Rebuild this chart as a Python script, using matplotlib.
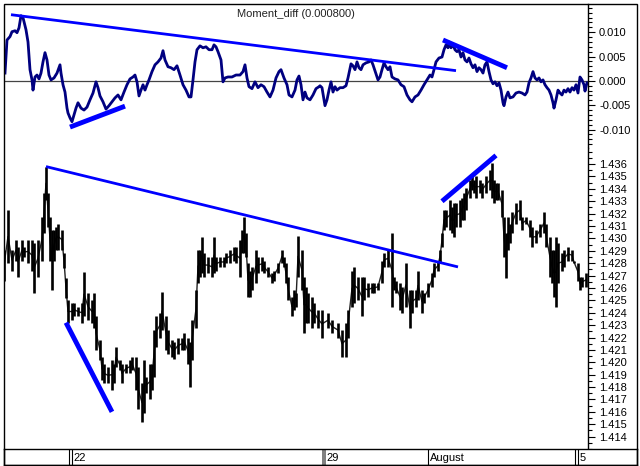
import matplotlib
matplotlib.use('Agg')
import matplotlib.pyplot as plt
from matplotlib.ticker import MultipleLocator, FixedLocator, FormatStrFormatter
from matplotlib.patches import Rectangle

plt.rcParams['font.family'] = 'Liberation Sans'

# Moment_diff oscillator (bar index, value)
moment_bar = [0.5, 1.5, 3, 4, 5.5, 6.5, 7.5, 8.5, 9.5, 11, 12, 13, 14, 14.5, 15.5, 16.5, 17.5, 18.5, 19.5, 20.5,
              21.5, 22.5, 23.5, 25, 26.5, 28, 28.5, 29.5, 30.5, 31.5, 32, 33, 34, 35, 36, 37, 38.5, 40, 41.5, 43,
              44.5, 46, 47, 48, 49.5, 51, 52.5, 54, 55.5, 57, 58.5, 60, 61.5, 63, 64.5, 65.5, 66.5, 67.5, 68.5, 69.5,
              70.5, 71.5, 72.5, 74, 75.5, 77, 78.5, 79.5, 80.5, 82, 83.5, 85, 86.5, 88, 89.5, 91, 92.5, 93.5, 94.5, 95.5,
              96.5, 98, 99.5, 101, 102.5, 104, 105, 106, 107, 108.5, 109.5, 110.5, 112, 114, 116, 118, 119.5, 120.5, 121.5, 122.5,
              124, 125.5, 127, 128.5, 130, 131.5, 133, 134.5, 136, 137.5, 138.5, 140, 141.5, 142.5, 144, 145.5, 146.5, 147.5, 148.5, 149.5,
              150.5, 151.5, 153, 154.5, 156, 157.5, 158, 159, 160, 160.5, 161.5, 162.5, 163.5, 164.5, 165.5, 166.5, 168, 169.5, 171, 172,
              173.5, 174.5, 175.5, 176.5, 177.5, 178.5, 179.5, 181, 182.5, 183.5, 184.5, 186, 187, 188, 189, 190, 191, 192, 193, 194,
              195.5, 197, 198.5, 200, 201.5, 203, 204, 205.5, 207, 208.5, 210, 211.5, 213, 214, 215, 216, 217.5, 219, 220, 221,
              222, 222.5, 223.5, 224.5, 225.5, 226.5, 227.5, 228.5, 229.5, 230.5, 231.5, 232.5, 233.5, 234.5, 235.5, 236.5, 237.5, 238.5, 239.5, 240.5,
              241.5, 242.5, 243.5, 244.5, 245.5, 246.5, 247.5, 248.5, 249.5, 250, 251, 252, 253, 254.5, 256, 257.5, 259, 260.5, 261.5, 262.5,
              263.5, 264.5, 265.5, 266.5, 267.5, 268.5, 269.5, 270.5, 271.5, 272.5, 273.5, 274.5, 275, 276, 277, 278, 279, 280, 281, 282,
              283, 284, 285, 286, 287, 288, 289, 290, 290.5, 291.5]
moment_val = [0.0016, 0.0084, 0.0091, 0.0101, 0.0103, 0.0099, 0.0109, 0.0134, 0.0130, 0.0105, 0.0080, 0.0023, 0.0002, -0.0019, 0.0008, 0.0012, 0.0004, 0.0016, 0.0039, 0.0058,
              0.0043, 0.0012, 0.0002, 0.0006, 0.0016, 0.0033, 0.0016, -0.0008, -0.0023, -0.0056, -0.0066, -0.0076, -0.0084, -0.0070, -0.0056, -0.0045, -0.0056, -0.0060, -0.0054, -0.0039,
              -0.0025, -0.0002, -0.0014, -0.0031, -0.0043, -0.0058, -0.0051, -0.0043, -0.0035, -0.0029, -0.0039, -0.0023, -0.0008, 0.0004, 0.0008, 0.0012, -0.0002, -0.0031, -0.0019, -0.0008,
              -0.0019, -0.0008, 0.0002, 0.0019, 0.0033, 0.0039, 0.0047, 0.0062, 0.0043, 0.0029, 0.0027, 0.0023, 0.0031, 0.0012, -0.0008, -0.0019, -0.0033, -0.0033, 0.0002, 0.0039,
              0.0064, 0.0072, 0.0068, 0.0070, 0.0064, 0.0064, 0.0074, 0.0070, 0.0060, 0.0043, -0.0002, 0.0006, 0.0008, 0.0008, 0.0012, 0.0012, 0.0019, 0.0033, 0.0006, -0.0012,
              -0.0016, -0.0002, -0.0014, -0.0008, -0.0012, -0.0023, -0.0033, -0.0019, 0.0006, 0.0019, 0.0023, 0.0006, -0.0008, -0.0029, -0.0033, -0.0019, 0.0002, 0.0010, -0.0008, -0.0039,
              -0.0023, -0.0035, -0.0039, -0.0029, -0.0016, -0.0012, -0.0010, -0.0014, -0.0039, -0.0051, -0.0039, -0.0019, -0.0002, -0.0023, -0.0012, -0.0019, -0.0014, -0.0014, -0.0010, 0.0006,
              0.0035, 0.0031, 0.0023, 0.0039, 0.0027, 0.0023, 0.0033, 0.0037, 0.0039, 0.0043, 0.0033, 0.0014, 0.0002, 0.0008, 0.0023, 0.0037, 0.0029, 0.0023, 0.0029, 0.0008,
              0.0004, 0.0002, -0.0008, -0.0012, -0.0029, -0.0039, -0.0043, -0.0033, -0.0029, -0.0019, -0.0008, 0.0002, 0.0012, 0.0008, 0.0023, 0.0039, 0.0047, 0.0049, 0.0064, 0.0074,
              0.0068, 0.0080, 0.0068, 0.0074, 0.0064, 0.0060, 0.0064, 0.0049, 0.0058, 0.0043, 0.0039, 0.0047, 0.0035, 0.0027, 0.0033, 0.0019, 0.0027, 0.0023, 0.0016, 0.0033,
              0.0039, 0.0019, 0.0002, -0.0006, -0.0002, -0.0010, -0.0004, -0.0019, -0.0045, -0.0051, -0.0033, -0.0023, -0.0035, -0.0033, -0.0025, -0.0023, -0.0025, -0.0029, -0.0023, -0.0004,
              0.0006, 0.0019, 0.0006, 0.0002, 0.0006, -0.0002, 0.0002, -0.0008, -0.0014, -0.0019, -0.0029, -0.0045, -0.0056, -0.0039, -0.0019, -0.0025, -0.0029, -0.0019, -0.0023, -0.0016,
              -0.0023, -0.0014, -0.0019, -0.0008, -0.0025, 0.0008, 0.0002, -0.0008, -0.0021, -0.0004]

# price bars (bar index, high, low)
price_bar = [0, 2, 4, 6, 7, 9, 10, 12, 14, 15, 17, 19, 20, 21, 22, 23, 24, 25, 26, 27,
             29, 30, 31, 32, 34, 35, 37, 39, 40, 42, 44, 45, 46, 48, 49, 50, 52, 54, 55, 56,
             58, 59, 61, 63, 64, 66, 67, 69, 70, 71, 73, 74, 75, 76, 78, 79, 81, 82, 84, 85,
             87, 89, 90, 92, 93, 94, 96, 97, 98, 99, 100, 102, 104, 105, 106, 108, 110, 111, 113, 115,
             116, 118, 119, 120, 121, 122, 123, 124, 126, 127, 129, 130, 132, 134, 135, 137, 139, 140, 141, 142,
             144, 145, 146, 147, 149, 150, 151, 152, 154, 155, 157, 159, 162, 164, 167, 169, 171, 172, 174, 175,
             177, 179, 180, 182, 184, 185, 187, 189, 190, 192, 194, 195, 196, 198, 199, 201, 203, 204, 206, 207,
             209, 210, 212, 214, 215, 217, 218, 219, 220, 221, 223, 224, 225, 226, 228, 229, 230, 231, 233, 234,
             235, 236, 238, 239, 241, 243, 244, 245, 246, 247, 249, 250, 251, 252, 253, 254, 256, 258, 259, 261,
             263, 264, 266, 268, 270, 271, 273, 274, 275, 276, 277, 279, 280, 282, 284, 285, 287, 288, 289, 291]
price_high = [1.4291, 1.4323, 1.4291, 1.4299, 1.4293, 1.4299, 1.4293, 1.4299, 1.4299, 1.4296, 1.4299, 1.4317, 1.4337, 1.4358, 1.4337, 1.4317, 1.4307, 1.4307, 1.4309, 1.4312,
              1.4307, 1.4288, 1.4268, 1.4250, 1.4248, 1.4248, 1.4245, 1.4248, 1.4273, 1.4256, 1.4250, 1.4256, 1.4237, 1.4218, 1.4204, 1.4199, 1.4196, 1.4202, 1.4199, 1.4212,
              1.4202, 1.4199, 1.4199, 1.4202, 1.4204, 1.4204, 1.4196, 1.4183, 1.4202, 1.4188, 1.4199, 1.4199, 1.4226, 1.4237, 1.4240, 1.4257, 1.4237, 1.4226, 1.4218, 1.4216,
              1.4220, 1.4220, 1.4224, 1.4220, 1.4216, 1.4234, 1.4258, 1.4291, 1.4291, 1.4301, 1.4288, 1.4285, 1.4285, 1.4301, 1.4285, 1.4285, 1.4285, 1.4288, 1.4291, 1.4293,
              1.4293, 1.4299, 1.4307, 1.4317, 1.4304, 1.4280, 1.4274, 1.4277, 1.4291, 1.4285, 1.4285, 1.4282, 1.4277, 1.4272, 1.4274, 1.4280, 1.4291, 1.4285, 1.4280, 1.4269,
              1.4253, 1.4258, 1.4256, 1.4302, 1.4291, 1.4269, 1.4261, 1.4256, 1.4253, 1.4248, 1.4242, 1.4242, 1.4240, 1.4234, 1.4232, 1.4226, 1.4232, 1.4242, 1.4274, 1.4277,
              1.4269, 1.4269, 1.4269, 1.4264, 1.4264, 1.4264, 1.4264, 1.4282, 1.4288, 1.4291, 1.4304, 1.4269, 1.4266, 1.4264, 1.4261, 1.4280, 1.4258, 1.4258, 1.4258, 1.4274,
              1.4258, 1.4256, 1.4264, 1.4272, 1.4280, 1.4282, 1.4291, 1.4304, 1.4323, 1.4323, 1.4331, 1.4325, 1.4329, 1.4329, 1.4331, 1.4333, 1.4337, 1.4341, 1.4347, 1.4350,
              1.4347, 1.4350, 1.4347, 1.4345, 1.4350, 1.4355, 1.4361, 1.4347, 1.4345, 1.4345, 1.4339, 1.4317, 1.4304, 1.4317, 1.4312, 1.4321, 1.4329, 1.4331, 1.4317, 1.4317,
              1.4315, 1.4309, 1.4307, 1.4312, 1.4321, 1.4312, 1.4301, 1.4291, 1.4291, 1.4301, 1.4296, 1.4288, 1.4291, 1.4293, 1.4291, 1.4282, 1.4280, 1.4269, 1.4269, 1.4272]
price_low = [1.4266, 1.4280, 1.4274, 1.4282, 1.4269, 1.4282, 1.4285, 1.4280, 1.4274, 1.4256, 1.4269, 1.4282, 1.4304, 1.4331, 1.4309, 1.4282, 1.4258, 1.4282, 1.4291, 1.4291,
             1.4291, 1.4276, 1.4252, 1.4232, 1.4234, 1.4237, 1.4237, 1.4232, 1.4237, 1.4234, 1.4232, 1.4228, 1.4210, 1.4202, 1.4186, 1.4183, 1.4183, 1.4178, 1.4183, 1.4196,
             1.4194, 1.4183, 1.4191, 1.4191, 1.4194, 1.4178, 1.4162, 1.4152, 1.4159, 1.4175, 1.4170, 1.4178, 1.4188, 1.4212, 1.4220, 1.4226, 1.4210, 1.4207, 1.4204, 1.4203,
             1.4207, 1.4210, 1.4210, 1.4199, 1.4180, 1.4202, 1.4228, 1.4264, 1.4269, 1.4272, 1.4269, 1.4272, 1.4269, 1.4272, 1.4274, 1.4277, 1.4277, 1.4280, 1.4280, 1.4282,
             1.4280, 1.4269, 1.4288, 1.4288, 1.4285, 1.4253, 1.4253, 1.4258, 1.4264, 1.4272, 1.4274, 1.4272, 1.4269, 1.4264, 1.4266, 1.4272, 1.4280, 1.4277, 1.4264, 1.4250,
             1.4237, 1.4242, 1.4245, 1.4269, 1.4258, 1.4224, 1.4232, 1.4232, 1.4228, 1.4232, 1.4228, 1.4220, 1.4228, 1.4224, 1.4220, 1.4204, 1.4204, 1.4220, 1.4245, 1.4248,
             1.4250, 1.4237, 1.4250, 1.4253, 1.4256, 1.4256, 1.4258, 1.4264, 1.4277, 1.4277, 1.4245, 1.4258, 1.4256, 1.4242, 1.4240, 1.4245, 1.4228, 1.4240, 1.4245, 1.4250,
             1.4240, 1.4248, 1.4253, 1.4261, 1.4269, 1.4274, 1.4280, 1.4293, 1.4307, 1.4309, 1.4307, 1.4304, 1.4301, 1.4309, 1.4309, 1.4315, 1.4315, 1.4323, 1.4333, 1.4339,
             1.4337, 1.4333, 1.4337, 1.4333, 1.4337, 1.4339, 1.4333, 1.4329, 1.4331, 1.4331, 1.4317, 1.4285, 1.4268, 1.4291, 1.4296, 1.4304, 1.4312, 1.4315, 1.4307, 1.4312,
             1.4301, 1.4293, 1.4296, 1.4301, 1.4304, 1.4293, 1.4269, 1.4264, 1.4253, 1.4245, 1.4264, 1.4274, 1.4277, 1.4282, 1.4282, 1.4280, 1.4266, 1.4258, 1.4261, 1.4261]

# hand drawn trend lines: (bar0, bar1), (y0, y1)
osc_trend_x = [(3.5, 226), (33, 60.5), (219.5, 251.5)]
osc_trend_y = [(0.0136, 0.0021), (-0.0095, -0.0052), (0.0084, 0.0027)]
osc_trend_w = [2, 3.5, 3.5]
price_trend_x = [(21, 227), (31, 54), (219, 246)]
price_trend_y = [(1.4358, 1.4277), (1.4232, 1.4160), (1.4330, 1.4367)]
price_trend_w = [2, 3.5, 3.5]

price_labels = [1.414 + 0.001 * k for k in range(23)]

date_labels = ['22', '29', 'August', '5']
date_pos = [34, 160.5, 212, 287]
date_mark = ['double', 'box', 'single', 'double']

W, H = 640, 466
fig = plt.figure(figsize=(W / 100, H / 100), dpi=100)


def box(x0, y0, x1, y1):
    return [x0 / W, 1 - y1 / H, (x1 - x0) / W, (y1 - y0) / H]


ax1 = fig.add_axes(box(4, 4, 588, 148))
ax2 = fig.add_axes(box(4, 148, 588, 449))
ax3 = fig.add_axes(box(4, 449, 637, 465))

for ax in (ax1, ax2):
    for s in ('left', 'top', 'bottom'):
        ax.spines[s].set_visible(False)
    ax.spines['right'].set_linewidth(1)
    ax.set_xlim(0, 292)
    ax.set_xticks([])
    ax.yaxis.tick_right()
    ax.tick_params(axis='y', which='major', direction='out', length=5, width=0.8, labelsize=8, pad=3)
    ax.tick_params(axis='y', which='minor', direction='out', length=3, width=0.8)

# oscillator
ax1.axhline(0, color='#444444', lw=0.9)
ax1.plot(moment_bar, moment_val, color='#000080', lw=2)
for xs, ys, w in zip(osc_trend_x, osc_trend_y, osc_trend_w):
    ax1.plot(xs, ys, color='#0000ff', lw=w, solid_capstyle='butt')
ax1.set_ylim(-0.0138, 0.0158)
ax1.yaxis.set_major_locator(FixedLocator([-0.010, -0.005, 0.0, 0.005, 0.010]))
ax1.yaxis.set_minor_locator(MultipleLocator(0.001))
ax1.yaxis.set_major_formatter(FormatStrFormatter('%.3f'))
ax1.text(0.5, 0.93, 'Moment_diff (0.000800)', transform=ax1.transAxes, ha='center', va='center',
         fontsize=8, color='#222222')

# price
mid = [(h + l) / 2 for h, l in zip(price_high, price_low)]
ax2.plot(price_bar, mid, color='#222222', lw=1.0)
ax2.vlines(price_bar, price_low, price_high, color='black', lw=1.9)
for xs, ys, w in zip(price_trend_x, price_trend_y, price_trend_w):
    ax2.plot(xs, ys, color='#0000ff', lw=w, solid_capstyle='butt')
ax2.set_ylim(1.4130, 1.4373)
ax2.yaxis.set_major_locator(FixedLocator(price_labels))
ax2.yaxis.set_minor_locator(MultipleLocator(0.0005))
ax2.yaxis.set_major_formatter(FormatStrFormatter('%.3f'))

# date strip
ax3.set_xlim(0, (637 - 4) / 2)
ax3.set_ylim(0, 1)
ax3.set_xticks([])
ax3.set_yticks([])
for s in ax3.spines.values():
    s.set_linewidth(1)
for lab, p, m in zip(date_labels, date_pos, date_mark):
    if m == 'double':
        ax3.axvline(p - 1.5, color='black', lw=0.8)
        ax3.axvline(p, color='black', lw=0.8)
    elif m == 'box':
        ax3.axvspan(p - 1.5, p + 0.5, color='#808080', lw=0)
    else:
        ax3.axvline(p, color='black', lw=0.8)
    ax3.text(p + 0.8, 0.45, lab, ha='left', va='center', fontsize=8)

# outer frame
fig.patches.append(Rectangle((4 / W, 1 - 465 / H), 633 / W, 461 / H, transform=fig.transFigure,
                             fill=False, edgecolor='black', lw=1))

fig.savefig('out.png', dpi=100)
